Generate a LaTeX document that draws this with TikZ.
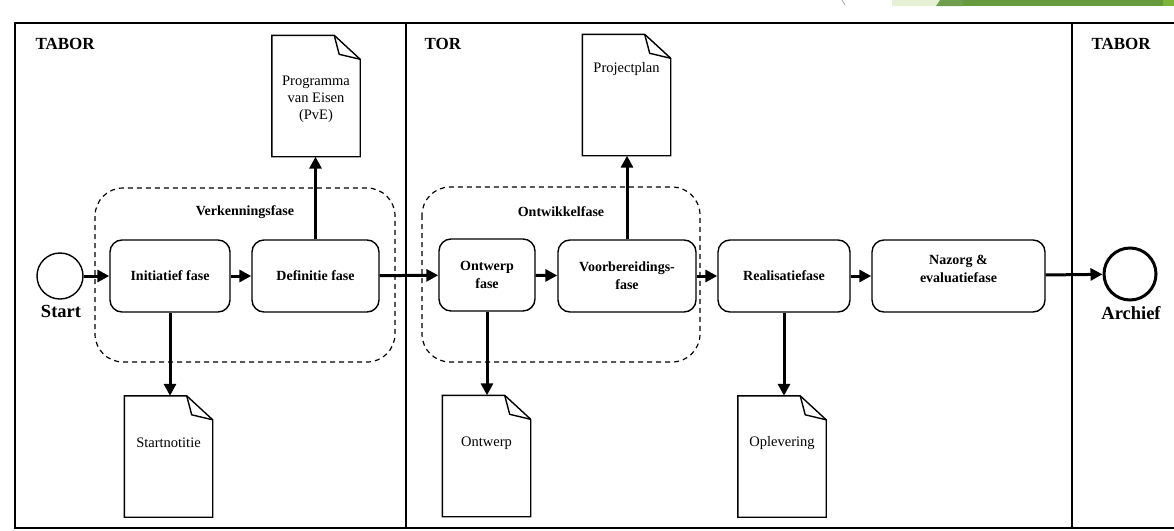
\documentclass[tikz,border=0pt]{standalone}
\usepackage{fontspec}
\setmainfont{Liberation Serif}
\usetikzlibrary{arrows.meta}
\definecolor{lgreen}{HTML}{E6F0D4}
\definecolor{mgreen}{HTML}{6E9E4E}
\definecolor{dgreen}{HTML}{679A3D}
\definecolor{bgreen}{HTML}{7FB43A}
\tikzset{
  x=1pt,y=-1pt,
  phase/.style={draw,line width=1.4pt,rounded corners=12pt,align=center,font=\fontsize{14}{18}\selectfont\bfseries,inner sep=2pt},
  group/.style={draw,dashed,line width=1.2pt,rounded corners=28pt,dash pattern=on 5pt off 4pt},
  grouplabel/.style={font=\fontsize{14}{17}\selectfont\bfseries},
  docbox/.style={inner sep=0pt,minimum width=88pt,minimum height=121pt},
  doctext/.style={align=center,font=\fontsize{14.5}{17}\selectfont},
  docline/.style={line width=1.4pt,line join=miter},
  flow/.style={line width=3pt,-{Triangle[length=12pt,width=12pt]}},
  event/.style={circle,draw,line width=1.4pt,minimum size=46pt,inner sep=0pt},
  endevent/.style={circle,draw,line width=3pt,minimum size=52pt,inner sep=0pt},
  evlabel/.style={font=\fontsize{18.5}{20}\selectfont\bfseries},
  lane/.style={font=\fontsize{17}{20}\selectfont\bfseries}
}
\newcommand\docshape[1]{%
  \draw[docline] (#1.south west) -- (#1.north west) -- ([xshift=-26pt]#1.north east) -- ([yshift=-24pt]#1.north east) -- (#1.south east) -- cycle;
  \draw[docline] ([xshift=-26pt]#1.north east) -- ([xshift=-21pt,yshift=-19pt]#1.north east) -- ([yshift=-24pt]#1.north east);}
\begin{document}
\begin{tikzpicture}
\useasboundingbox[fill=white] (0,0) rectangle (1174,530);
% decoration at top right
\fill[lgreen] (892,0) -- (940,0) -- (936,6) -- (892,6) -- cycle;
\fill[mgreen] (940,0) -- (963,0) -- (963,6) -- (936,6) -- cycle;
\fill[dgreen] (963,0) -- (1163,0) -- (1163,6) -- (963,6) -- cycle;
\fill[bgreen] (1163,0) rectangle (1174,6);
\draw[gray!70,line width=0.8pt] (842,0) -- (845,5);
% frame and lanes
\draw[line width=2pt] (1180,23) -- (15,23) -- (15,528) -- (1180,528);
\draw[line width=1.6pt] (406,23) -- (406,528);
\draw[line width=1.6pt] (1072,23) -- (1072,528);
\node[lane,anchor=west] (l1) at (32,44) {TABOR};
\node[lane,anchor=west] (l2) at (421,44) {TOR};
\node[lane,anchor=west] (l3) at (1088,44) {TABOR};
% groups
\draw[group] (95,188) rectangle (395,362);
\node[grouplabel] (g1) at (245,212) {Verkenningsfase};
\draw[group] (422,187) rectangle (700,362);
\node[grouplabel] (g2) at (561,212) {Ontwikkelfase};
% events
\node[event] (start) at (60,276) {};
\node[evlabel] (startl) at (61,311) {Start};
\node[endevent] (archief) at (1130,274) {};
\node[evlabel] (archiefl) at (1131,313) {Archief};
% phases
\node[phase,minimum width=120pt,minimum height=72pt] (init) at (170,276) {Initiatief fase};
\node[phase,minimum width=127pt,minimum height=72pt] (def) at (315.5,276) {Definitie fase};
\node[phase,minimum width=96pt,minimum height=72pt] (ontw) at (487,275) {Ontwerp\\fase};
\node[phase,minimum width=138pt,minimum height=72pt] (voorb) at (627,276) {Voorbereidings-\\fase};
\node[phase,minimum width=132pt,minimum height=72pt] (real) at (784,276) {Realisatiefase};
\node[phase,minimum width=173pt,minimum height=72pt,text depth=14pt] (naz) at (958.5,276) {Nazorg \&\\evaluatiefase};
% documents
\node[docbox] (pve) at (316,96) {};
\docshape{pve}
\node[doctext] (pvet) at (316,99) {Programma\\van Eisen\\(PvE)};
\node[docbox] (pp) at (626.5,95) {};
\docshape{pp}
\node[doctext] (ppt) at (626.5,69) {Projectplan};
\node[docbox] (sn) at (168.5,456.5) {};
\docshape{sn}
\node[doctext] (snt) at (168.5,443) {Startnotitie};
\node[docbox] (od) at (486.5,456) {};
\docshape{od}
\node[doctext] (odt) at (486.5,443) {Ontwerp};
\node[docbox] (ol) at (782,456.5) {};
\docshape{ol}
\node[doctext] (olt) at (782,443) {Oplevering};
% flows
\draw[flow] (start) -- (init);
\draw[flow] (init) -- (def);
\draw[flow] (def) -- (ontw);
\draw[flow] (ontw) -- (voorb);
\draw[flow] (voorb) -- (real);
\draw[flow] (real) -- (naz);
\draw[flow] (naz) -- (archief);
\draw[flow] (def.north) -- (def.north |- pve.south);
\draw[flow] (voorb.north) -- (voorb.north |- pp.south);
\draw[flow] (init.south) -- (init.south |- sn.north);
\draw[flow] (ontw.south) -- (ontw.south |- od.north);
\draw[flow] (real.south) -- (real.south |- ol.north);
\end{tikzpicture}
\end{document}
